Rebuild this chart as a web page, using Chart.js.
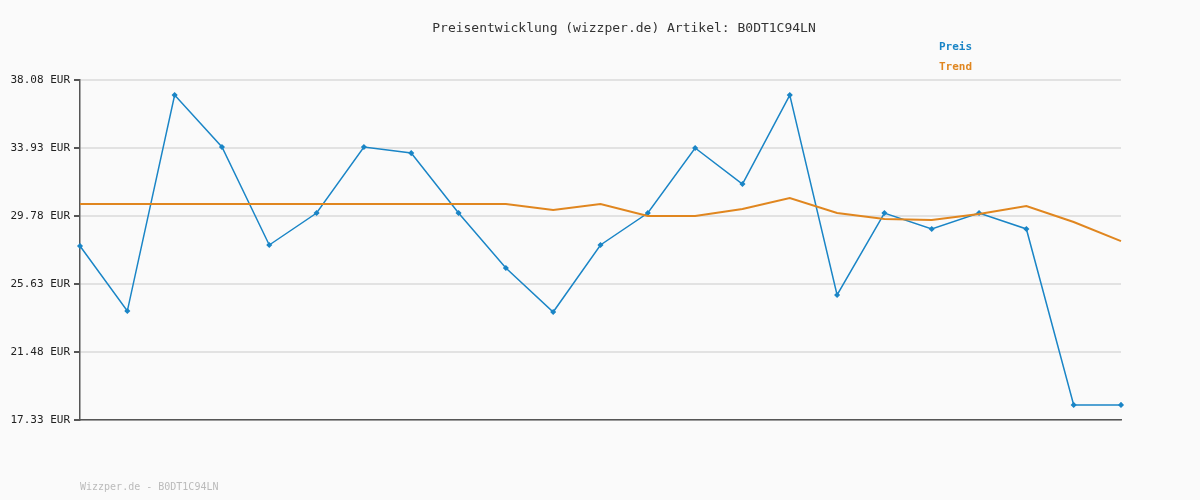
<!DOCTYPE html>
<html><head><meta charset="utf-8">
<script src="https://cdn.jsdelivr.net/npm/chart.js@4"></script>
<style>
body{margin:0;background:#fafafa;font-family:"DejaVu Sans Mono",monospace;}
#wrap{position:relative;width:1200px;height:500px;}
.t{position:absolute;white-space:pre;}
</style></head><body>
<div id="wrap">
<canvas id="c" width="1200" height="500"></canvas>
<div class="t" style="left:0;width:1248px;text-align:center;top:20px;font-size:13px;color:#333">Preisentwicklung (wizzper.de) Artikel: B0DT1C94LN</div>
<div class="t" style="left:939px;top:40px;font-size:11px;font-weight:bold;color:#1a85c6">Preis</div>
<div class="t" style="left:939px;top:60px;font-size:11px;font-weight:bold;color:#e0861f">Trend</div>
<div class="t" style="left:80px;top:481px;font-size:10px;color:#bbb">Wizzper.de - B0DT1C94LN</div>
</div>
<script>
const labels = Array.from({length:23},(_,i)=>String(i+1));
const preis = [27.95,23.98,37.16,33.99,28.01,29.96,33.99,33.62,29.96,26.61,23.92,28.01,29.96,33.93,31.73,37.16,24.96,29.96,28.99,29.96,28.99,18.25,18.25];
const trend = [30.51,30.51,30.51,30.51,30.51,30.51,30.51,30.51,30.51,30.51,30.15,30.51,29.78,29.78,30.21,30.88,29.96,29.60,29.54,29.90,30.39,29.41,28.25];
const yTicks = [17.33,21.48,25.63,29.78,33.93,38.08];
new Chart(document.getElementById('c'),{
 type:'line',
 data:{labels,datasets:[
  {data:trend,borderColor:'#e0861f',borderWidth:2,pointRadius:0,tension:0},
  {data:preis,borderColor:'#1a85c6',backgroundColor:'#1a85c6',borderWidth:1.5,pointRadius:2,pointStyle:'rectRot',tension:0}
 ]},
 options:{responsive:false,animation:false,
  layout:{padding:{left:0,top:80,right:79,bottom:80}},
  plugins:{legend:{display:false},tooltip:{enabled:false}},
  scales:{
   x:{offset:false,ticks:{display:false},grid:{display:false,drawTicks:false},border:{color:'#555',width:1.5},afterFit:s=>{s.height=0;}},
   y:{min:17.33,max:38.08,
    afterBuildTicks:s=>{s.ticks=yTicks.map(v=>({value:v}));},
    afterFit:s=>{s.width=80;},
    ticks:{callback:v=>v.toFixed(2)+' EUR',color:'#222',font:{family:'DejaVu Sans Mono',size:11},padding:4},
    grid:{color:'#e2e2e2',lineWidth:2,drawTicks:true,tickLength:6,tickColor:'#555'},
    border:{color:'#555',width:1.5}}
  }}
});
</script>
</body></html>
